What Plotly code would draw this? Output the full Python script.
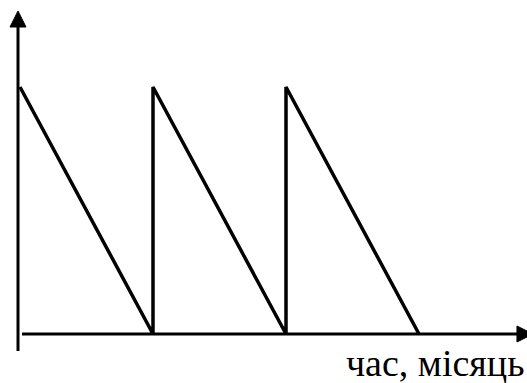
import plotly.graph_objects as go

# Inventory level over time: replenished instantly, used up linearly
t_points = [0, 1, 1, 2, 2, 3]
stock_level = [1, 0, 1, 0, 1, 0]
x_label = "час, місяць"

W, H = 527, 383
PX_X, PX_Y = 133, 247          # pixels per unit on each axis
x_range = [-20 / PX_X, (W - 20) / PX_X]
y_range = [-49 / PX_Y, (H - 49) / PX_Y]

fig = go.Figure()
fig.add_trace(go.Scatter(
    x=t_points, y=stock_level, mode="lines",
    line=dict(color="black", width=3.5), hoverinfo="skip", showlegend=False,
))

AX_W = 3
y_axis_x = -0.015
y_top = 1.3077
x_right = 3.857
head_len, head_half = 16, 8    # arrow head size in pixels

# axis lines
fig.add_shape(type="line", xref="x", yref="y", x0=y_axis_x, x1=y_axis_x,
              y0=-0.069, y1=y_top - 0.04, line=dict(color="black", width=AX_W))
fig.add_shape(type="line", xref="x", yref="y", x0=0.015, x1=x_right - 0.08,
              y0=0, y1=0, line=dict(color="black", width=AX_W))

# arrow heads as filled triangles
hx = [y_axis_x - head_half / PX_X, y_axis_x + head_half / PX_X, y_axis_x, y_axis_x - head_half / PX_X, None,
      x_right - head_len / PX_X, x_right - head_len / PX_X, x_right, x_right - head_len / PX_X]
hy = [y_top - head_len / PX_Y, y_top - head_len / PX_Y, y_top, y_top - head_len / PX_Y, None,
      -head_half / PX_Y, head_half / PX_Y, 0, -head_half / PX_Y]
fig.add_trace(go.Scatter(
    x=hx, y=hy, mode="lines", fill="toself", fillcolor="black",
    line=dict(color="black", width=1), hoverinfo="skip", showlegend=False,
))

fig.add_annotation(x=1, y=-0.004, xref="paper", yref="paper",
                   xanchor="right", yanchor="bottom", showarrow=False,
                   text=x_label, borderpad=0, xshift=-2,
                   font=dict(family="Liberation Serif", size=38, color="black"))

fig.update_xaxes(range=x_range, visible=False)
fig.update_yaxes(range=y_range, visible=False)
fig.update_layout(width=W, height=H, margin=dict(l=0, r=0, t=0, b=0),
                  paper_bgcolor="white", plot_bgcolor="white")

fig.write_html("out.html")
